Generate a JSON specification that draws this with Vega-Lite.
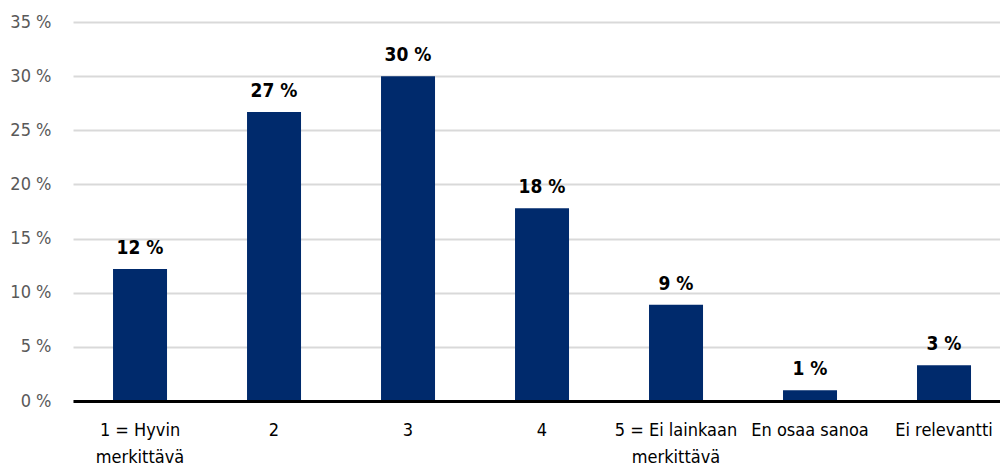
{
  "$schema": "https://vega.github.io/schema/vega-lite/v6.json",
  "autosize": {"type": "none"},
  "width": 927,
  "height": 379,
  "padding": {"left": 73, "top": 22, "right": 0, "bottom": 72},
  "background": "white",
  "config": {
    "view": {"stroke": null},
    "font": "DejaVu Sans Condensed, Liberation Sans Narrow, sans-serif"
  },
  "data": {
    "values": [
      {"vastaus": "1 = Hyvin|merkittävä", "osuus": 12.2},
      {"vastaus": "2", "osuus": 26.7},
      {"vastaus": "3", "osuus": 30.0},
      {"vastaus": "4", "osuus": 17.8},
      {"vastaus": "5 = Ei lainkaan|merkittävä", "osuus": 8.9},
      {"vastaus": "En osaa sanoa", "osuus": 1.0},
      {"vastaus": "Ei relevantti", "osuus": 3.3}
    ]
  },
  "encoding": {
    "x": {
      "field": "vastaus",
      "type": "nominal",
      "sort": null,
      "title": null,
      "scale": {"paddingInner": 0.597, "paddingOuter": 0.2575, "align": 0.58},
      "axis": {
        "labelAngle": 0,
        "labelExpr": "split(datum.label, '|')",
        "labelFontSize": 18,
        "labelColor": "#000000",
        "labelPadding": 20,
        "labelLineHeight": 27,
        "ticks": false,
        "domainColor": "#000000",
        "domainWidth": 3,
        "zindex": 1
      }
    },
    "y": {
      "field": "osuus",
      "type": "quantitative",
      "title": null,
      "scale": {"domain": [0, 35], "nice": false},
      "axis": {
        "values": [0, 5, 10, 15, 20, 25, 30, 35],
        "labelExpr": "datum.value + ' %'",
        "labelFontSize": 18,
        "labelColor": "#595959",
        "labelPadding": 22,
        "ticks": false,
        "domain": false,
        "gridColor": "#d9d9d9",
        "gridWidth": 2
      }
    }
  },
  "layer": [
    {"mark": {"type": "bar", "color": "#002a6c"}},
    {
      "transform": [
        {"calculate": "format(datum.osuus, '.0f') + ' %'", "as": "teksti"}
      ],
      "mark": {
        "type": "text",
        "baseline": "bottom",
        "dy": -11,
        "fontSize": 19,
        "fontWeight": "bold",
        "color": "#000000"
      },
      "encoding": {
        "text": {"field": "teksti", "type": "nominal"}
      }
    }
  ]
}
